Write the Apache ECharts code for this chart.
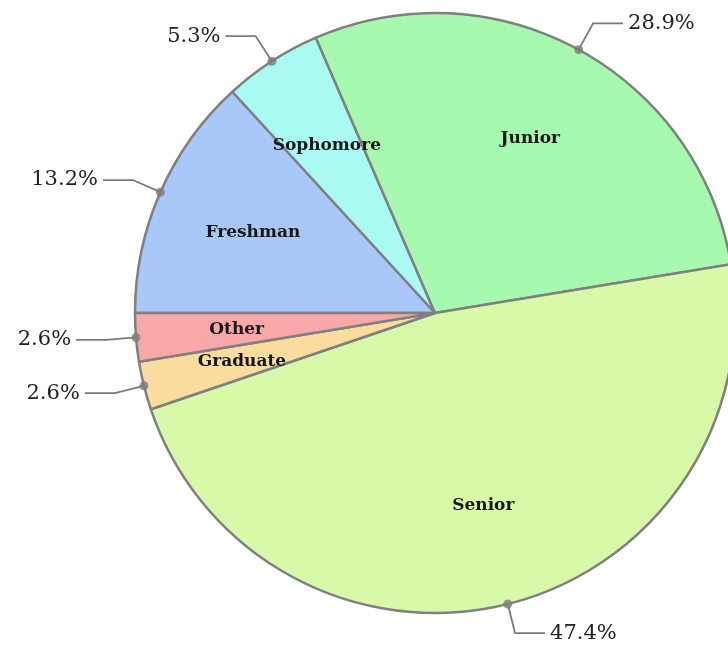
<!DOCTYPE html>
<html>
<head>
<meta charset="utf-8">
<script src="https://cdn.jsdelivr.net/npm/echarts@6/dist/echarts.min.js"></script>
<style>
html,body{margin:0;padding:0;background:#fff;}
#chart{width:728px;height:648px;}
</style>
</head>
<body>
<div id="chart"></div>
<script>
const categories = ['Freshman', 'Sophomore', 'Junior', 'Senior', 'Graduate', 'Other'];
const percents = [13.2, 5.3, 28.9, 47.4, 2.6, 2.6];
const sliceColors = ['#a8c8fa', '#a8faf2', '#a8f9b0', '#d8faa8', '#fadc9f', '#f8a8a8'];

const total = percents.reduce((a, b) => a + b, 0);
const pieData = categories.map((c, i) => ({ name: c, value: percents[i], itemStyle: { color: sliceColors[i] } }));
let cum = 0;
const dotData = percents.map(v => { const mid = cum + v / 2; cum += v; return [1, mid]; });

const CENTER = [435, 313];
const R = 300;

const chart = echarts.init(document.getElementById('chart'));
chart.setOption({
  animation: false,
  polar: { center: CENTER, radius: R },
  angleAxis: { type: 'value', min: 0, max: total, startAngle: 180, clockwise: true, show: false },
  radiusAxis: { type: 'value', min: 0, max: 1, show: false },
  series: [
    {
      type: 'pie',
      center: CENTER,
      radius: R,
      startAngle: 180,
      clockwise: true,
      avoidLabelOverlap: false,
      silent: true,
      data: pieData,
      itemStyle: { borderColor: '#808080', borderWidth: 2.5 },
      label: {
        show: true,
        position: 'outside',
        formatter: p => p.value.toFixed(1) + '%',
        fontFamily: 'DejaVu Serif',
        fontSize: 21,
        color: '#222',
        distanceToLabelLine: 5
      },
      labelLine: {
        show: true,
        length: 30,
        length2: 30,
        smooth: false,
        lineStyle: { color: '#7a7a7a', width: 1.8 }
      },
      emphasis: { disabled: true }
    },
    {
      type: 'pie',
      center: CENTER,
      radius: [92, R],
      startAngle: 180,
      clockwise: true,
      silent: true,
      avoidLabelOverlap: false,
      data: categories.map((c, i) => ({ name: c, value: percents[i] })),
      itemStyle: { color: 'rgba(0,0,0,0)', borderWidth: 0 },
      label: {
        show: true,
        position: 'inside',
        formatter: '{b}',
        fontFamily: 'DejaVu Serif',
        fontWeight: 'bold',
        fontSize: 17,
        color: '#161616',
        padding: [4, 0, 0, 0]
      },
      labelLine: { show: false },
      emphasis: { disabled: true },
      z: 3
    },
    {
      type: 'scatter',
      coordinateSystem: 'polar',
      data: dotData,
      symbol: 'circle',
      symbolSize: 9,
      itemStyle: { color: '#7a7a7a' },
      silent: true,
      z: 4
    }
  ]
});
</script>
</body>
</html>
